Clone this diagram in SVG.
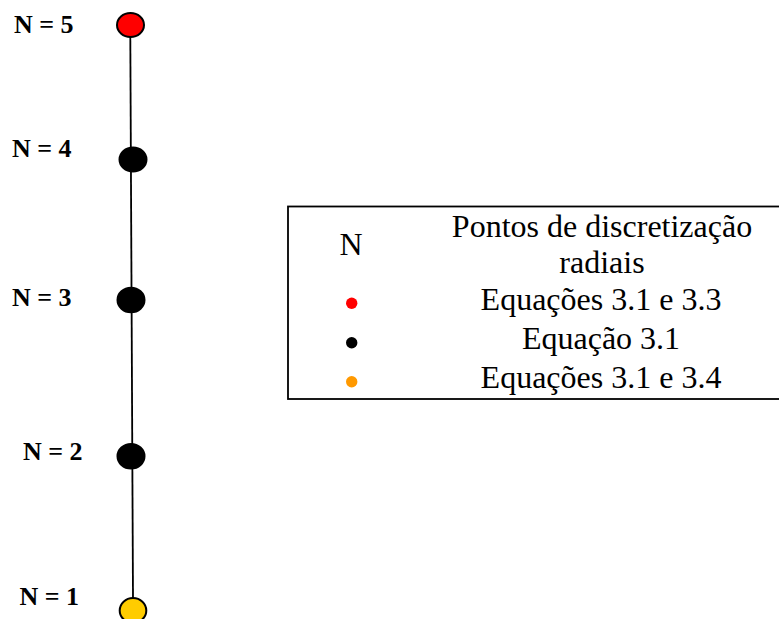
<svg xmlns="http://www.w3.org/2000/svg" width="779" height="619" viewBox="0 0 779 619">
<style>
.lbl{font-family:"Liberation Serif","Times New Roman",serif;font-weight:bold;font-size:26px;fill:#000}
.leg{font-family:"Liberation Serif","Times New Roman",serif;font-size:32px;fill:#000;text-anchor:middle}
.node{stroke:#000;stroke-width:2}
</style>
<rect width="779" height="619" fill="#fff"/>
<g id="connectors">
<line x1="130.3" y1="36" x2="133" y2="598" stroke="#000" stroke-width="1.8"/>
</g>
<g id="n5"><ellipse class="node" cx="130.5" cy="25" rx="13.5" ry="12" fill="#ff0000"/><text class="lbl" x="14" y="33">N = 5</text></g>
<g id="n4"><ellipse class="node" cx="133" cy="159.5" rx="13.5" ry="12" fill="#000"/><text class="lbl" x="12" y="157">N = 4</text></g>
<g id="n3"><ellipse class="node" cx="131" cy="300" rx="13.5" ry="12.3" fill="#000"/><text class="lbl" x="12" y="306">N = 3</text></g>
<g id="n2"><ellipse class="node" cx="131" cy="456.3" rx="13.5" ry="12.3" fill="#000"/><text class="lbl" x="23" y="460">N = 2</text></g>
<g id="n1"><ellipse class="node" cx="133" cy="610.5" rx="13.3" ry="12.5" fill="#ffcc00"/><text class="lbl" x="19.5" y="605">N = 1</text></g>
<g id="legend">
<rect x="288" y="206.5" width="492" height="192.5" fill="none" stroke="#000" stroke-width="1.8"/>
<text class="leg" x="351" y="255">N</text>
<text class="leg" x="602" y="237">Pontos de discretização</text>
<text class="leg" x="602" y="273">radiais</text>
<circle cx="351.7" cy="303.3" r="5.7" fill="#ff0000"/>
<text class="leg" x="601" y="310">Equações 3.1 e 3.3</text>
<circle cx="351.7" cy="342.7" r="5.7" fill="#000"/>
<text class="leg" x="601" y="349">Equação 3.1</text>
<circle cx="351.7" cy="381.7" r="5.7" fill="#ff9900"/>
<text class="leg" x="601" y="388">Equações 3.1 e 3.4</text>
</g>
</svg>
